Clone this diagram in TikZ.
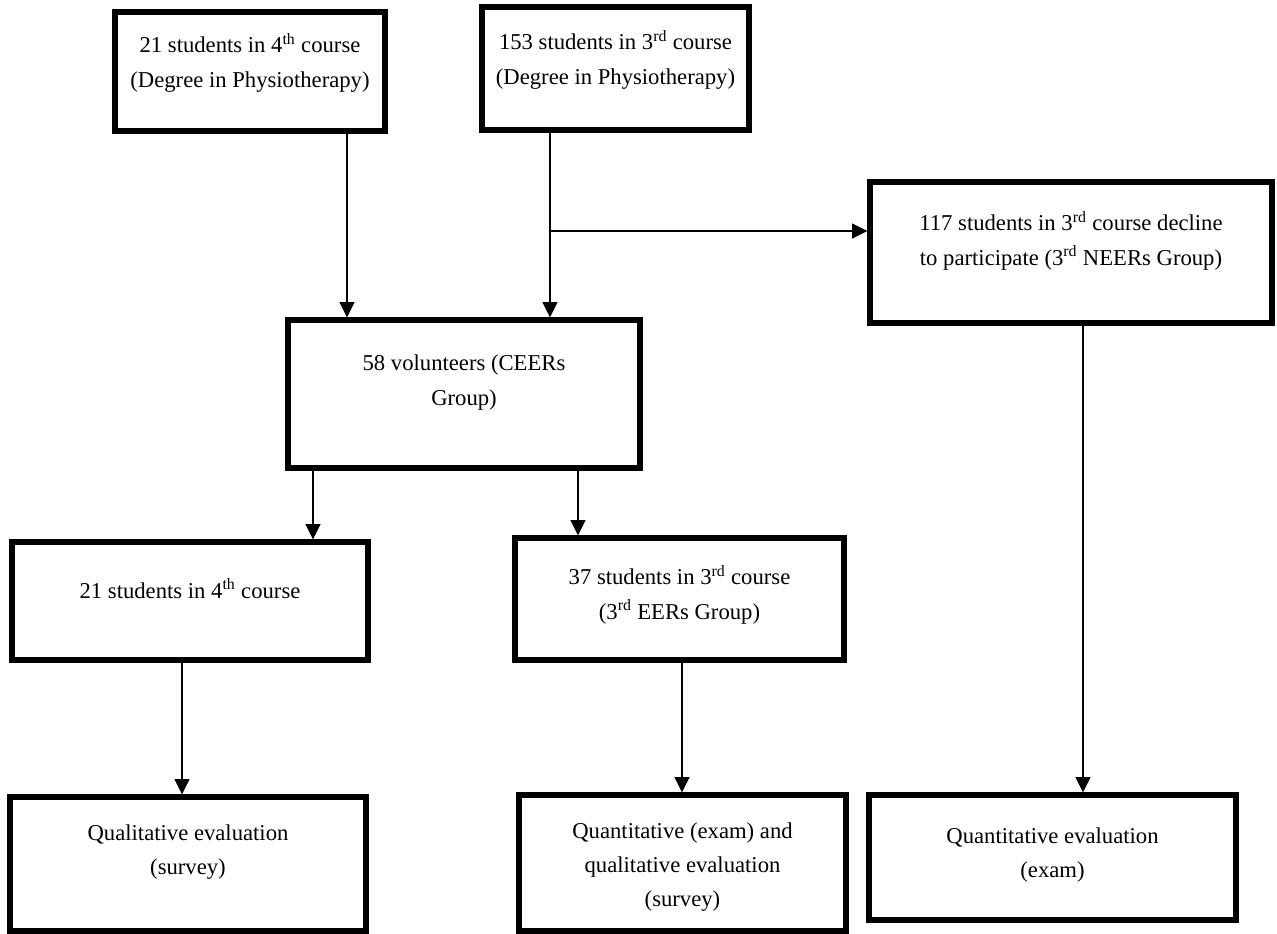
\documentclass[tikz,border=0pt]{standalone}
\usepackage{fontspec}
\setmainfont{Liberation Serif}
\usetikzlibrary{arrows.meta,fit}
\begin{document}
\begin{tikzpicture}[x=0.75pt,y=-0.75pt,
  box/.style={draw, line width=3.8pt, fill=white, inner sep=0pt},
  txt/.style={anchor=north, align=center, inner sep=0pt, font=\fontsize{17}{25.8}\selectfont, execute at begin node=\strut},
  arr/.style={line width=1.5pt, -{Triangle[length=11.5pt,width=11pt]}}]
\useasboundingbox (0,0) rectangle (1277,934);
% boxes
\node[box, fit={(115,12) (385,131)}] (A) {};
\node[box, fit={(482,7) (749,130)}] (B) {};
\node[box, fit={(870,182) (1272,323)}] (C) {};
\node[box, fit={(288,320) (640,468)}] (D) {};
\node[box, fit={(12,542) (368,660)}] (E) {};
\node[box, fit={(515,538) (844,660)}] (F) {};
\node[box, fit={(10,797) (366,931)}] (G) {};
\node[box, fit={(519,795) (846,931)}] (H) {};
\node[box, fit={(869,795) (1236,920)}] (I) {};
% texts
\node[txt] (At) at (250,33) {21 students in 4\textsuperscript{th} course\\(Degree in Physiotherapy)};
\node[txt] (Bt) at (615.5,30) {153 students in 3\textsuperscript{rd} course\\(Degree in Physiotherapy)};
\node[txt] (Ct) at (1071,211) {117 students in 3\textsuperscript{rd} course decline\\to participate (3\textsuperscript{rd} NEERs Group)};
\node[txt] (Dt) at (464,355) {58 volunteers (CEERs\\Group)};
\node[txt] (Et) at (190,574) {21 students in 4\textsuperscript{th} course};
\node[txt] (Ft) at (679.5,565) {37 students in 3\textsuperscript{rd} course\\(3\textsuperscript{rd} EERs Group)};
\node[txt] (Gt) at (188,824) {Qualitative evaluation\\(survey)};
\node[txt] (Ht) at (682.5,822) {Quantitative (exam) and\\qualitative evaluation\\(survey)};
\node[txt] (It) at (1052.5,827) {Quantitative evaluation\\(exam)};
% connector positions
\coordinate (xa) at (347,0);
\coordinate (xb) at (550,0);
\coordinate (xd1) at (313,0);
\coordinate (xd2) at (578,0);
\coordinate (xe) at (182,0);
\coordinate (xf) at (682,0);
\coordinate (xc) at (1083,0);
\coordinate (j) at (550,231);
% connectors
\draw[arr] (A.south -| xa) -- (D.north -| xa);
\draw[arr] (B.south -| xb) -- (D.north -| xb);
\draw[arr] (j) -- (C.west |- j);
\draw[arr] (D.south -| xd1) -- (E.north -| xd1);
\draw[arr] (D.south -| xd2) -- (F.north -| xd2);
\draw[arr] (E.south -| xe) -- (G.north -| xe);
\draw[arr] (F.south -| xf) -- (H.north -| xf);
\draw[arr] (C.south -| xc) -- (I.north -| xc);
\end{tikzpicture}
\end{document}
